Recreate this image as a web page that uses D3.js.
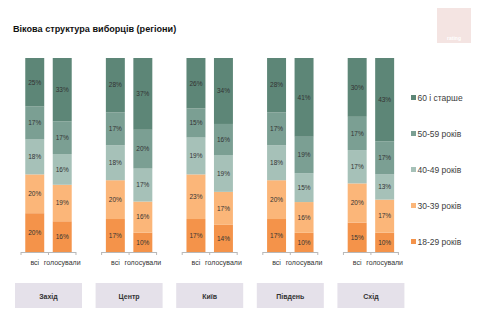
<!DOCTYPE html>
<html><head><meta charset="utf-8">
<script src="https://cdn.jsdelivr.net/npm/d3@7"></script>
<style>body{margin:0;background:#fff}svg{display:block}text{font-family:"Liberation Sans",Arial,sans-serif}</style>
</head><body>
<svg id="c" width="480" height="322"></svg>
<script>
const title = "Вікова структура виборців (регіони)";
const regions = ["Захід","Центр","Київ","Південь","Схід"];
const voterTypes = ["всі","голосували"];
const ageGroups = ["18-29 років","30-39 років","40-49 років","50-59 років","60 і старше"];
// values per region: [всі, голосували] pairs in region order
const age18_29 = [20,16, 17,10, 17,14, 17,10, 15,10];
const age30_39 = [20,19, 20,16, 23,17, 20,16, 20,17];
const age40_49 = [18,16, 18,17, 19,19, 18,15, 17,13];
const age50_59 = [17,17, 17,20, 15,16, 17,19, 17,17];
const age60plus = [25,33, 28,37, 26,34, 28,41, 30,43];
const colors = ["#f4934a","#fbb679","#a6c1b8","#7b9f93","#5d8677"];

const series = [age18_29, age30_39, age40_49, age50_59, age60plus];
const rows = [];
regions.forEach((r, ri) => voterTypes.forEach((t, ti) => {
  const row = {region: r, type: t};
  ageGroups.forEach((a, ai) => row[a] = series[ai][ri*2+ti]);
  rows.push(row);
}));
const stacked = d3.stack().keys(ageGroups).offset(d3.stackOffsetExpand)(rows);

const svg = d3.select("#c");
svg.append("text").attr("x",13).attr("y",32).attr("font-size",9.1).attr("font-weight","bold").attr("fill","#111").text(title);
// logo block
svg.append("rect").attr("x",437).attr("y",8).attr("width",34).attr("height",35).attr("fill","#f4e4e2");
svg.append("text").attr("x",454).attr("y",40).attr("text-anchor","middle").attr("font-size",5).attr("fill","#fff").attr("font-weight","bold").text("rating");

const outer = d3.scaleBand().domain(regions).range([21, 398.4]).paddingInner(0.318).paddingOuter(0);
const inner = d3.scaleBand().domain(voterTypes).range([0, outer.bandwidth()]).paddingInner(0.31).paddingOuter(0.155);
const y = d3.scaleLinear().domain([0,1]).range([252, 58]);

const g = svg.append("g");
stacked.forEach((s, si) => {
  s.forEach((d, i) => {
    const row = rows[i];
    const x = outer(row.region) + inner(row.type);
    g.append("rect").attr("x", x).attr("width", inner.bandwidth())
      .attr("y", y(d[1])).attr("height", y(d[0]) - y(d[1])).attr("fill", colors[si]);
    g.append("text").attr("x", x + inner.bandwidth()/2).attr("y", (y(d[0])+y(d[1]))/2 + 2.3)
      .attr("text-anchor","middle").attr("font-size",6.5).attr("fill","#333").text(row[s.key] + "%");
  });
});

// axes per region
regions.forEach(r => {
  const ax = svg.append("g").attr("transform", `translate(${outer(r)},252)`)
    .call(d3.axisBottom(inner).tickSize(0).tickPadding(8));
  ax.select(".domain").attr("stroke","#b8b8b8").attr("d", `M0,0.5H${outer.bandwidth()}`);
  ax.selectAll("text").attr("font-size",7).attr("fill","#333").attr("font-family","Liberation Sans, Arial, sans-serif");
  const step = inner.step();
  [0,1,2].forEach(k => ax.append("line").attr("x1", k*step).attr("x2", k*step).attr("y1",0).attr("y2",3).attr("stroke","#b8b8b8"));
});

// legend
const lg = svg.append("g");
ageGroups.slice().reverse().forEach((a, i) => {
  const ci = ageGroups.length - 1 - i;
  const ly = 98 + i*36;
  lg.append("rect").attr("x",411).attr("y",ly-3).attr("width",5).attr("height",5).attr("fill",colors[ci]);
  lg.append("text").attr("x",417.5).attr("y",ly+2.8).attr("font-size",8.5).attr("fill","#404040").text(a);
});

// region buttons
regions.forEach(r => {
  const cx = outer(r) + outer.bandwidth()/2;
  svg.append("rect").attr("x", cx-33.5).attr("y",283).attr("width",67).attr("height",25).attr("fill","#e5e1ea");
  svg.append("text").attr("x",cx).attr("y",298.5).attr("text-anchor","middle").attr("font-size",7).attr("font-weight","bold").attr("fill","#333").text(r);
});
</script>
</body></html>
